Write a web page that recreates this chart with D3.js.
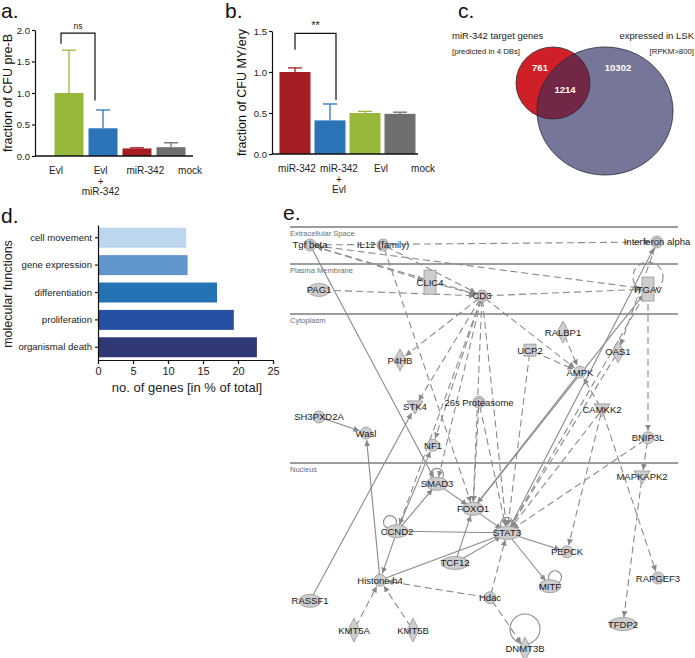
<!DOCTYPE html>
<html><head><meta charset="utf-8">
<script src="https://cdn.jsdelivr.net/npm/d3@7/dist/d3.min.js"></script>
<style>
body{margin:0;background:#fff}
svg{display:block}
text{font-family:"Liberation Sans",Arial,Helvetica,sans-serif}
</style>
</head><body>
<svg id="fig" width="695" height="658"></svg>
<script>
// ---------- DATA ----------
// Panel a
const aCategories = [["Evl"], ["Evl", "+", "miR-342"], ["miR-342"], ["mock"]];
const aValues = [1.0, 0.44, 0.12, 0.14];
const aErrors = [0.68, 0.29, 0.01, 0.07];
const aTicks = [0, 0.5, 1.0, 1.5, 2.0];
const aYLabel = "fraction of CFU pre-B";
const aSig = "ns";
// Panel b
const bCategories = [["miR-342"], ["miR-342", "+", "Evl"], ["Evl"], ["mock"]];
const bValues = [1.0, 0.41, 0.50, 0.49];
const bErrors = [0.05, 0.20, 0.02, 0.02];
const bTicks = [0, 0.5, 1.0, 1.5];
const bYLabel = "fraction of CFU MY/ery";
const bSig = "**";
// Panel c
const vennSets = ["miR-342 target genes", "expressed in LSK"];
const vennSubtitles = ["[predicted in 4 DBs]", "[RPKM>800]"];
const vennCounts = [761, 1214, 10302]; // only targets, both, only expressed
// Panel d
const dCategories = ["cell movement", "gene expression", "differentiation", "proliferation", "organismal death"];
const dValues = [12.6, 12.8, 17.0, 19.4, 22.7];
const dTicks = [0, 5, 10, 15, 20, 25];
const dXLabel = "no. of genes [in % of total]";
const dYLabel = "molecular functions";
// Panel e
const eCompartments = ["Extracellular Space", "Plasma Membrane", "Cytoplasm", "Nucleus"];
const eNodes = ["Tgf beta", "IL12 (family)", "Interferon alpha", "PAG1", "CLIC4", "CD3", "ITGAV", "RALBP1",
  "UCP2", "OAS1", "P4HB", "AMPK", "26s Proteasome", "STK4", "CAMKK2", "SH3PXD2A", "Wasl", "BNIP3L", "NF1",
  "MAPKAPK2", "SMAD3", "FOXO1", "CCND2", "STAT3", "PEPCK", "TCF12", "Histone h4", "RAPGEF3", "MITF", "Hdac",
  "RASSF1", "TFDP2", "KMT5A", "KMT5B", "DNMT3B"];
const eEdges = [
  ["CD3", "Tgf beta", "d"], ["Tgf beta", "CLIC4", "d"], ["IL12 (family)", "CD3", "d"],
  ["Tgf beta", "Interferon alpha", "d"], ["Tgf beta", "ITGAV", "d"], ["PAG1", "CD3", "d"],
  ["CLIC4", "CD3", "d"], ["CD3", "ITGAV", "d"], ["CD3", "P4HB", "d"], ["CD3", "STK4", "d"],
  ["CD3", "NF1", "d"], ["CD3", "SMAD3", "d"], ["CD3", "CCND2", "d"], ["CD3", "FOXO1", "d"],
  ["CD3", "STAT3", "d"], ["CD3", "AMPK", "d"], ["IL12 (family)", "FOXO1", "d"],
  ["Tgf beta", "SMAD3", "s"], ["RALBP1", "AMPK", "d"], ["UCP2", "AMPK", "d"], ["UCP2", "STAT3", "d"],
  ["Interferon alpha", "OAS1", "d"], ["OAS1", "STAT3", "d"], ["26s Proteasome", "FOXO1", "d"],
  ["26s Proteasome", "STAT3", "d"], ["CAMKK2", "AMPK", "d"], ["CAMKK2", "PEPCK", "d"],
  ["CAMKK2", "RAPGEF3", "d"], ["CAMKK2", "STAT3", "d"], ["ITGAV", "BNIP3L", "d"],
  ["BNIP3L", "MAPKAPK2", "d"], ["BNIP3L", "STAT3", "d"], ["MAPKAPK2", "TFDP2", "d"],
  ["STAT3", "ITGAV", "d"], ["STAT3", "Interferon alpha", "s"], ["FOXO1", "ITGAV", "s"],
  ["AMPK", "FOXO1", "s"], ["SH3PXD2A", "Wasl", "s"], ["Histone h4", "Wasl", "s"], ["RASSF1", "STK4", "s"],
  ["CCND2", "Histone h4", "s"], ["CCND2", "STAT3", "s"], ["CCND2", "NF1", "s"], ["CCND2", "SMAD3", "s"],
  ["Histone h4", "STAT3", "s"], ["TCF12", "FOXO1", "s"], ["TCF12", "STAT3", "s"], ["SMAD3", "FOXO1", "s"],
  ["FOXO1", "STAT3", "s"], ["STAT3", "PEPCK", "s"], ["STAT3", "MITF", "s"], ["Hdac", "STAT3", "d"],
  ["Hdac", "DNMT3B", "d"], ["Hdac", "Histone h4", "d"], ["KMT5A", "Histone h4", "d"], ["KMT5B", "Histone h4", "d"]
];
const eSelfLoops = [["SMAD3", "s"], ["CCND2", "s"], ["STAT3", "s"], ["MITF", "s"], ["DNMT3B", "s"], ["ITGAV", "d"]];

// ---------- LAYOUT (positions / styles) ----------
const FONT = '"Liberation Sans",Arial,Helvetica,sans-serif';
const aColors = ["#98b83c", "#2b74b7", "#a31d23", "#6c6e70"];
const bColors = ["#a31d23", "#2b74b7", "#98b83c", "#6c6e70"];
const dColors = ["#bcd6ee", "#6196cc", "#2373b5", "#2650a2", "#2f3775"];
const eLayout = {
  "Tgf beta": [5, 4.65, "dbl"], "IL12 (family)": [23.25, 4.65, "dbl"], "Interferon alpha": [91.75, 3.95, "dbl"],
  "PAG1": [7.25, 15.1, "ell"], "CLIC4": [35, 13.3, "rectT"], "CD3": [48, 16.5, "dbl"], "ITGAV": [89.5, 14.9, "rectT"],
  "RALBP1": [68.25, 24.9, "dia"], "UCP2": [60, 29.1, "sq"], "OAS1": [82, 29.5, "dia"], "P4HB": [27.5, 31.4, "dia"],
  "AMPK": [72.5, 34.2, "cir"], "26s Proteasome": [47.25, 41.2, "dbl"], "STK4": [31.25, 42.3, "tri"],
  "CAMKK2": [78, 43.0, "tri"], "SH3PXD2A": [7.25, 44.65, "cir"], "Wasl": [19, 48.4, "cir"], "BNIP3L": [89.5, 49.5, "cir"],
  "NF1": [35.75, 51.2, "cir"], "MAPKAPK2": [88, 58.6, "tri"], "SMAD3": [36.75, 60.2, "ell"], "FOXO1": [45.75, 66.0, "ell"],
  "CCND2": [26.75, 71.2, "ell"], "STAT3": [54.25, 71.6, "ellL"], "PEPCK": [69.25, 76.0, "cir"], "TCF12": [41.25, 78.6, "ellL"],
  "Histone h4": [22.5, 82.6, "cir"], "RAPGEF3": [92, 82.1, "cir"], "MITF": [65, 84.0, "ell"], "Hdac": [50, 86.7, "cir"],
  "RASSF1": [5, 87.4, "ell"], "TFDP2": [83.25, 92.8, "ellL"], "KMT5A": [16, 94.2, "diaL"], "KMT5B": [30.75, 94.2, "diaL"],
  "DNMT3B": [58.75, 98.6, "diaL"]
};
const eCompLines = [0.47, 9.07, 20.7, 55.35];

const svg = d3.select("#fig");
const defs = svg.append("defs");

function panelLabel(t, x, y) {
  svg.append("text").attr("x", x).attr("y", y).attr("font-size", 21).attr("fill", "#111").text(t);
}
panelLabel("a.", 1, 18);
panelLabel("b.", 225, 18);
panelLabel("c.", 458, 18);
panelLabel("d.", 1, 223);
panelLabel("e.", 283, 220);

// ---------- bar panels a & b ----------
function barPanel(o) {
  const g = svg.append("g");
  const x = d3.scalePoint().domain(d3.range(o.cats.length)).range(o.barRange);
  const xl = d3.scalePoint().domain(d3.range(o.cats.length)).range(o.labelRange);
  const y = d3.scaleLinear().domain(o.yDomain).range(o.yRange);
  g.selectAll("rect.bar").data(o.vals).join("rect")
    .attr("x", (d, i) => x(i) - o.bw / 2).attr("width", o.bw)
    .attr("y", d => y(d)).attr("height", d => y(0) - y(d))
    .attr("fill", (d, i) => o.colors[i]);
  o.vals.forEach((v, i) => {
    const cx = x(i), top = y(v + o.errs[i]);
    g.append("line").attr("x1", cx).attr("x2", cx).attr("y1", y(v)).attr("y2", top)
      .attr("stroke", o.colors[i]).attr("stroke-width", 1.3);
    g.append("line").attr("x1", cx - 7).attr("x2", cx + 7).attr("y1", top).attr("y2", top)
      .attr("stroke", o.colors[i]).attr("stroke-width", 1.3);
  });
  const yAxis = d3.axisLeft(y).tickValues(o.ticks).tickFormat(d3.format(".1f")).tickSize(3).tickSizeOuter(0).tickPadding(2);
  const ga = g.append("g").attr("transform", `translate(${o.axisX},0)`).call(yAxis);
  ga.selectAll("text").attr("font-size", 9.5).attr("font-family", FONT).attr("fill", "#222");
  ga.selectAll("line,path").attr("stroke", "#111").attr("stroke-width", 1.2);
  g.append("line").attr("x1", o.axisX).attr("x2", o.axisEnd).attr("y1", y(0)).attr("y2", y(0))
    .attr("stroke", "#111").attr("stroke-width", 1.3);
  o.cats.forEach((lines, i) => {
    const t = g.append("text").attr("text-anchor", "middle").attr("font-size", 10).attr("fill", "#222");
    lines.forEach((ln, k) => t.append("tspan").attr("x", xl(i)).attr("y", o.catY + k * 10.5).text(ln));
  });
  g.append("text").attr("transform", `translate(${o.ylabX},${(o.yRange[0] + o.yRange[1]) / 2}) rotate(-90)`)
    .attr("text-anchor", "middle").attr("font-size", 12.5).attr("fill", "#111").text(o.ylab);
  const [i0, i1, lvl, l0, l1] = o.bracket;
  const bx0 = o.bracketX[0], bx1 = o.bracketX[1];
  g.append("path").attr("d", `M${x(i0) + bx0},${y(l0)}V${y(lvl)}H${x(i1) + bx1}V${y(l1)}`)
    .attr("fill", "none").attr("stroke", "#111").attr("stroke-width", 1.2);
  g.append("text").attr("x", (x(i0) + bx0 + x(i1) + bx1) / 2).attr("y", y(lvl) - 4).attr("text-anchor", "middle")
    .attr("font-size", o.sig === "ns" ? 8.5 : 11).attr("fill", "#222").text(o.sig);
}

barPanel({ cats: aCategories, vals: aValues, errs: aErrors, ticks: aTicks, colors: aColors, ylab: aYLabel, sig: aSig,
  axisX: 35, axisEnd: 193, barRange: [69, 171], labelRange: [56, 190], yRange: [156, 30], yDomain: [0, 2], bw: 29,
  bracket: [0, 1, 1.95, 1.78, 0.88], bracketX: [-8, -8], ylabX: 12, catY: 174 });
barPanel({ cats: bCategories, vals: bValues, errs: bErrors, ticks: bTicks, colors: bColors, ylab: bYLabel, sig: bSig,
  axisX: 272, axisEnd: 418, barRange: [295, 400], labelRange: [297, 423], yRange: [154, 31], yDomain: [0, 1.5], bw: 31,
  bracket: [0, 1, 1.47, 1.27, 0.66], bracketX: [0, 6], ylabX: 246, catY: 172 });

// ---------- panel c: Venn ----------
(function () {
  const g = svg.append("g");
  const A = { cx: 553, cy: 83, rx: 37, ry: 36 };
  const B = { cx: 605, cy: 111, rx: 68, ry: 64 };
  defs.append("clipPath").attr("id", "clipB").append("ellipse")
    .attr("cx", B.cx).attr("cy", B.cy).attr("rx", B.rx).attr("ry", B.ry);
  g.append("ellipse").attr("cx", B.cx).attr("cy", B.cy).attr("rx", B.rx).attr("ry", B.ry).attr("fill", "#767699");
  g.append("ellipse").attr("cx", A.cx).attr("cy", A.cy).attr("rx", A.rx).attr("ry", A.ry).attr("fill", "#cf2028");
  g.append("ellipse").attr("cx", A.cx).attr("cy", A.cy).attr("rx", A.rx).attr("ry", A.ry).attr("fill", "#712745")
    .attr("clip-path", "url(#clipB)");
  [A, B].forEach(c => g.append("ellipse").attr("cx", c.cx).attr("cy", c.cy).attr("rx", c.rx).attr("ry", c.ry)
    .attr("fill", "none").attr("stroke", "#2a2a35").attr("stroke-width", 0.8));
  const fmt = d3.format("d");
  const numPos = [[540, 71], [565, 93], [618, 71]];
  vennCounts.forEach((v, i) => g.append("text").attr("x", numPos[i][0]).attr("y", numPos[i][1])
    .attr("text-anchor", "middle").attr("font-size", 9.5).attr("font-weight", "bold").attr("fill", "#fff").text(fmt(v)));
  g.append("text").attr("x", 452).attr("y", 39).attr("font-size", 9.5).attr("fill", "#222").text(vennSets[0]);
  g.append("text").attr("x", 452).attr("y", 54).attr("font-size", 7.8).attr("fill", "#222").text(vennSubtitles[0]);
  g.append("text").attr("x", 694).attr("y", 39).attr("text-anchor", "end").attr("font-size", 9.5).attr("fill", "#222").text(vennSets[1]);
  g.append("text").attr("x", 694).attr("y", 54).attr("text-anchor", "end").attr("font-size", 7.8).attr("fill", "#222").text(vennSubtitles[1]);
})();

// ---------- panel d ----------
(function () {
  const g = svg.append("g");
  const y = d3.scaleBand().domain(dCategories).range([225, 360]).paddingInner(0.27).paddingOuter(0.1);
  const x = d3.scaleLinear().domain([0, 25]).range([98, 273]);
  g.selectAll("rect").data(dValues).join("rect")
    .attr("x", x(0)).attr("y", (d, i) => y(dCategories[i])).attr("height", y.bandwidth())
    .attr("width", d => x(d) - x(0)).attr("fill", (d, i) => dColors[i]);
  const gx = g.append("g").attr("transform", "translate(0,360)")
    .call(d3.axisBottom(x).tickValues(dTicks).tickSize(4).tickSizeOuter(0).tickPadding(3));
  gx.selectAll("text").attr("font-size", 11).attr("font-family", FONT).attr("fill", "#222");
  gx.selectAll("line,path").attr("stroke", "#111").attr("stroke-width", 1.2);
  const gy = g.append("g").attr("transform", "translate(98,0)")
    .call(d3.axisLeft(y).tickSize(3).tickSizeOuter(0).tickPadding(3));
  gy.selectAll("text").attr("font-size", 9.6).attr("font-family", FONT).attr("fill", "#222");
  gy.selectAll("line,path").attr("stroke", "#111").attr("stroke-width", 1.2);
  g.append("text").attr("x", 187).attr("y", 392).attr("text-anchor", "middle").attr("font-size", 13).attr("fill", "#222").text(dXLabel);
  g.append("text").attr("transform", "translate(12,294) rotate(-90)").attr("text-anchor", "middle")
    .attr("font-size", 12.5).attr("fill", "#222").text(dYLabel);
})();

// ---------- panel e: network ----------
(function () {
  const g = svg.append("g");
  const ex = d3.scaleLinear().domain([0, 100]).range([290, 690]);
  const ey = d3.scaleLinear().domain([0, 100]).range([225, 655]);
  defs.append("marker").attr("id", "arr").attr("viewBox", "0 0 10 10").attr("refX", 10).attr("refY", 5)
    .attr("markerWidth", 5.5).attr("markerHeight", 5.5).attr("orient", "auto")
    .append("path").attr("d", "M0,0L10,5L0,10z").attr("fill", "#8a8a8a");
  eCompLines.forEach((v, i) => {
    g.append("line").attr("x1", ex(0)).attr("x2", ex(97)).attr("y1", ey(v)).attr("y2", ey(v))
      .attr("stroke", "#7d7d7d").attr("stroke-width", 1.6);
    g.append("text").attr("x", ex(0)).attr("y", ey(v) + 9).attr("font-size", 7.5).attr("fill", "#6e6e6e").text(eCompartments[i]);
  });
  const P = n => [ex(eLayout[n][0]), ey(eLayout[n][1])];
  const eg = g.append("g");
  eEdges.forEach(([s, t, st]) => {
    const [x1, y1] = P(s), [x2, y2] = P(t);
    const dx = x2 - x1, dy = y2 - y1, L = Math.hypot(dx, dy);
    const ux = dx / L, uy = dy / L;
    eg.append("line").attr("x1", x1 + ux * 4).attr("y1", y1 + uy * 4).attr("x2", x2 - ux * 7).attr("y2", y2 - uy * 7)
      .attr("stroke", "#8a8a8a").attr("stroke-width", 1.1)
      .attr("stroke-dasharray", st === "d" ? "7,4" : null)
      .attr("marker-end", "url(#arr)");
  });
  eSelfLoops.forEach(([n, st]) => {
    const [cx, cy] = P(n);
    const big = n === "DNMT3B" || n === "ITGAV";
    const r = big ? 15 : 6.5;
    const oy = n === "DNMT3B" ? -20 : (n === "ITGAV" ? -12 : -9);
    const ox = n === "CCND2" ? -7 : (n === "MITF" ? 5 : 0);
    eg.append("circle").attr("cx", cx + ox).attr("cy", cy + oy).attr("r", r).attr("fill", "none")
      .attr("stroke", "#8a8a8a").attr("stroke-width", 1.1).attr("stroke-dasharray", st === "d" ? "6,4" : null);
  });
  const ng = g.append("g");
  const fill = "#cdcdcd", stroke = "#959595";
  eNodes.forEach(n => {
    const [cx, cy] = P(n), shape = eLayout[n][2];
    let el;
    if (shape === "cir" || shape === "dbl") {
      el = ng.append("circle").attr("cx", cx).attr("cy", cy).attr("r", 6);
    } else if (shape === "ell" || shape === "ellL") {
      el = ng.append("ellipse").attr("cx", cx).attr("cy", cy).attr("rx", shape === "ellL" ? 14 : 11).attr("ry", 6.5);
    } else if (shape === "rectT") {
      el = ng.append("rect").attr("x", cx - 6).attr("y", cy - 12).attr("width", 12).attr("height", 24);
    } else if (shape === "sq") {
      el = ng.append("rect").attr("x", cx - 6).attr("y", cy - 6).attr("width", 12).attr("height", 12);
    } else if (shape === "dia" || shape === "diaL") {
      const h = shape === "diaL" ? 12 : 11, w = 6;
      el = ng.append("path").attr("d", `M${cx},${cy - h}L${cx + w},${cy}L${cx},${cy + h}L${cx - w},${cy}Z`);
    } else {
      el = ng.append("path").attr("d", `M${cx - 8},${cy - 6}L${cx + 8},${cy - 6}L${cx},${cy + 7}Z`);
    }
    el.attr("fill", fill).attr("stroke", stroke).attr("stroke-width", 0.8);
    if (shape === "dbl") ng.append("circle").attr("cx", cx).attr("cy", cy).attr("r", 4)
      .attr("fill", "none").attr("stroke", stroke).attr("stroke-width", 0.8);
  });
  eNodes.forEach(n => {
    const [cx, cy] = P(n);
    ng.append("text").attr("x", cx).attr("y", cy + 3.5).attr("text-anchor", "middle")
      .attr("font-size", 9.5).attr("fill", "#1a1a1a").text(n);
  });
})();
</script>
</body></html>
